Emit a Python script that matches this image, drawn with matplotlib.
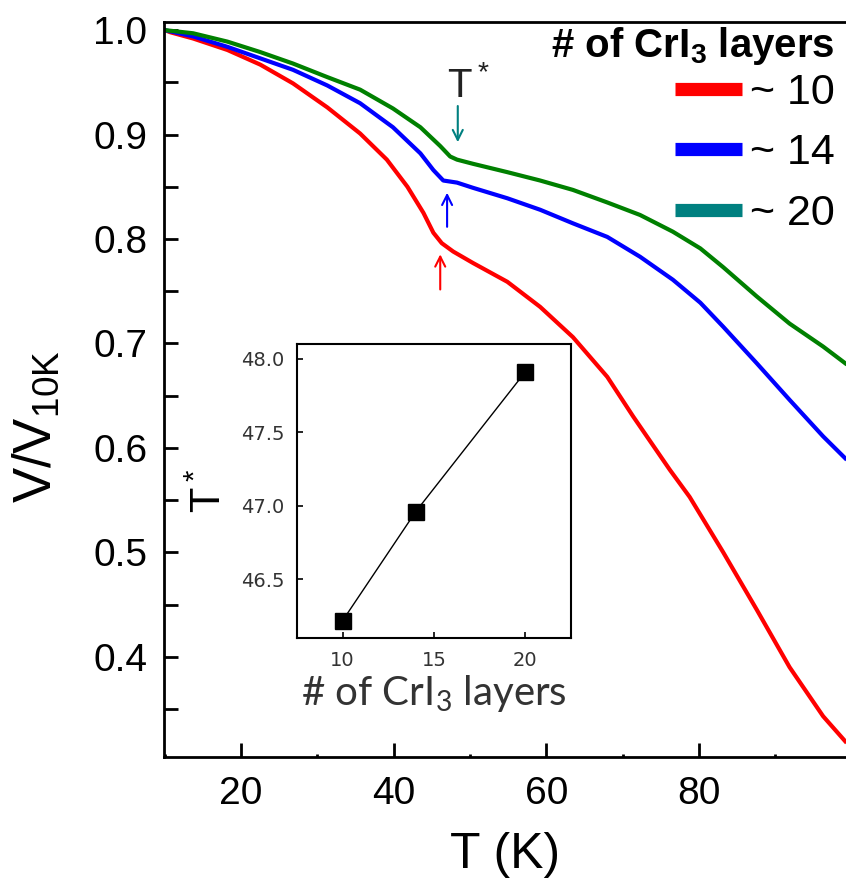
import matplotlib
matplotlib.use('Agg')
import matplotlib.pyplot as plt
from matplotlib.lines import Line2D
from matplotlib.ticker import MultipleLocator

plt.rcParams['font.family'] = ['Liberation Sans', 'DejaVu Sans']
plt.rcParams['mathtext.default'] = 'regular'

# Main panel: V/V10K vs T for three flake thicknesses
t_red = [10, 10.7, 13.7, 18.2, 22.5, 26.8, 31.3, 35.6, 39.1, 41.8, 43.9, 45.2, 46.3, 47.8,
         50.4, 54.9, 59.2, 63.5, 68.0, 71.4, 76.2, 78.8, 83.2, 87.6, 91.9, 96.3, 99.2]
v_red = [1.000, 0.998, 0.992, 0.981, 0.967, 0.949, 0.926, 0.901, 0.876, 0.850, 0.825, 0.806, 0.796, 0.788,
         0.777, 0.759, 0.735, 0.706, 0.668, 0.630, 0.579, 0.553, 0.500, 0.445, 0.390, 0.343, 0.319]

t_blue = [10, 13.7, 18.2, 22.5, 26.8, 31.3, 35.6, 39.9, 43.5, 45.2, 46.5, 48.3, 50.4,
          54.9, 59.2, 63.5, 68.0, 72.3, 76.6, 80.2, 83.2, 87.6, 91.9, 96.3, 99.2]
v_blue = [1.000, 0.994, 0.984, 0.973, 0.962, 0.947, 0.930, 0.907, 0.882, 0.866, 0.856, 0.854, 0.849,
          0.839, 0.828, 0.815, 0.802, 0.783, 0.761, 0.739, 0.716, 0.681, 0.646, 0.611, 0.590]

t_green = [10, 13.7, 18.2, 22.5, 26.8, 31.3, 35.6, 39.9, 43.5, 46.1, 47.4, 48.3, 50.4,
           54.9, 59.2, 63.5, 68.0, 72.3, 76.6, 80.2, 83.2, 87.6, 91.9, 96.3, 99.2]
v_green = [1.000, 0.997, 0.989, 0.979, 0.968, 0.955, 0.943, 0.925, 0.907, 0.889, 0.879, 0.876, 0.872,
           0.864, 0.856, 0.847, 0.835, 0.823, 0.807, 0.791, 0.773, 0.745, 0.719, 0.697, 0.681]

# Inset: T* vs number of layers
layers = [10, 14, 20]
t_star = [46.22, 46.96, 47.91]

legend_labels = ['~ 10', '~ 14', '~ 20']
legend_colors = ['#ff0000', '#0000ff', '#008080']

fig = plt.figure(figsize=(8.46, 8.84), dpi=100)
ax = fig.add_axes([0.194, 0.1437, 0.806, 0.8313])

ax.plot(t_red, v_red, color='#ff0000', lw=3)
ax.plot(t_blue, v_blue, color='#0000ff', lw=3)
ax.plot(t_green, v_green, color='#008000', lw=3)

ax.set_xlim(9.9, 99.3)
ax.set_ylim(0.304, 1.0077)
ax.xaxis.set_major_locator(MultipleLocator(20))
ax.xaxis.set_minor_locator(MultipleLocator(10))
ax.yaxis.set_major_locator(MultipleLocator(0.1))
ax.yaxis.set_minor_locator(MultipleLocator(0.05))
ax.tick_params(axis='both', which='major', direction='in', length=10, width=2, labelsize=28)
ax.tick_params(axis='x', which='major', pad=14)
ax.tick_params(axis='y', which='major', pad=12)
ax.tick_params(axis='y', which='minor', direction='in', length=10, width=2)
ax.tick_params(axis='x', which='minor', direction='in', length=2, width=2)
ax.tick_params(top=False, right=False)
for s in ['left', 'bottom', 'top']:
    ax.spines[s].set_linewidth(2)
ax.spines['right'].set_visible(False)

ax.set_xlabel('T (K)', fontsize=36, labelpad=14)
ax.set_ylabel('V/V$_{10K}$', fontsize=38)
ax.yaxis.set_label_coords(-0.15, 0.45)

# T* arrows
ax.annotate('', xy=(48.4, 0.890), xytext=(48.4, 0.930),
            arrowprops=dict(arrowstyle='->', color='#008080', lw=1.5, mutation_scale=18))
ax.annotate('', xy=(47.0, 0.847), xytext=(47.0, 0.809),
            arrowprops=dict(arrowstyle='->', color='#0000ff', lw=1.5, mutation_scale=18))
ax.annotate('', xy=(46.1, 0.788), xytext=(46.1, 0.749),
            arrowprops=dict(arrowstyle='->', color='#ff0000', lw=1.5, mutation_scale=18))
ax.text(47.0, 0.936, 'T$^*$', fontsize=29, ha='left', va='baseline', color='#222222')

# legend: title drawn as text, entries right aligned below it
ax.text(0.984, 0.967, '# of CrI$_3$ layers', transform=ax.transAxes, ha='right', va='center',
        fontsize=29, fontweight='bold')
handles = [Line2D([], [], color=c, lw=9.5, solid_capstyle='butt') for c in legend_colors]
leg = ax.legend(handles, legend_labels, loc='upper right', bbox_to_anchor=(0.99, 0.937),
                frameon=False, fontsize=31, handlelength=1.55, handletextpad=0.2,
                labelspacing=0.48, borderaxespad=0, borderpad=0.1)

# inset
ins = fig.add_axes([0.351, 0.278, 0.324, 0.333])
ins.plot(layers, t_star, color='black', lw=1, marker='s', markersize=11)
ins.set_xlim(7.5, 22.5)
ins.set_ylim(46.1, 48.1)
ins.xaxis.set_major_locator(MultipleLocator(5))
ins.yaxis.set_major_locator(MultipleLocator(0.5))
ins.tick_params(axis='both', direction='in', length=4, width=1.2, labelsize=14, pad=9)
for lab in ins.get_xticklabels() + ins.get_yticklabels():
    lab.set_family(['DejaVu Sans'])
    lab.set_color('#333333')
for s in ins.spines.values():
    s.set_linewidth(1.5)
ins.set_xlabel('# of CrI$_3$ layers', fontsize=29, family=['Lato', 'DejaVu Sans'], labelpad=2,
               color='#333333')
ins.set_ylabel('T$^*$', fontsize=30, labelpad=8)

plt.savefig('out.png', dpi=100)
plt.close(fig)
